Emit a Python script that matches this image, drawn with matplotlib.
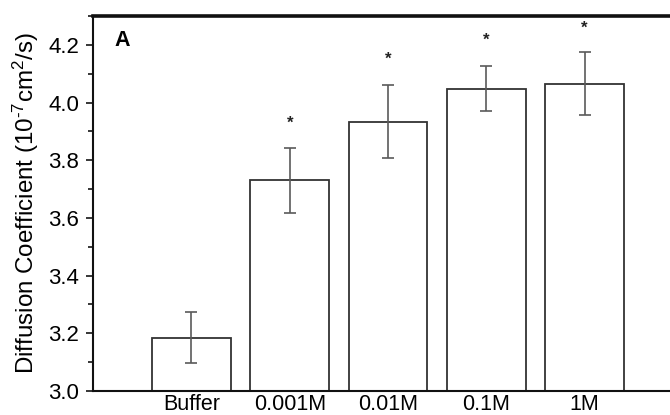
import matplotlib
matplotlib.use("Agg")
import matplotlib.pyplot as plt
from matplotlib.ticker import MultipleLocator

categories = ["Buffer", "0.001M", "0.01M", "0.1M", "1M"]
values = [3.185, 3.730, 3.934, 4.047, 4.066]
errors = [0.088, 0.112, 0.127, 0.078, 0.110]
star_levels = [None, 3.927, 4.150, 4.215, 4.257]

plt.rcParams['font.family'] = ['Liberation Sans', 'DejaVu Sans']
plt.rcParams['mathtext.fontset'] = 'custom'
plt.rcParams['mathtext.rm'] = 'Liberation Sans'
plt.rcParams['mathtext.it'] = 'Liberation Sans:italic'
plt.rcParams['mathtext.bf'] = 'Liberation Sans:bold'

fig = plt.figure(figsize=(6.7, 4.15), dpi=100)
ax = fig.add_axes([0.1388, 0.0578, 0.8612, 0.9036])

x = list(range(len(categories)))
ax.bar(x, [v - 3.0 for v in values], bottom=3.0, width=0.8,
       facecolor='white', edgecolor='#333333', linewidth=1.3, zorder=2)
ax.errorbar(x, values, yerr=errors, fmt='none', ecolor='#5a5a5a',
            elinewidth=1.2, capsize=4.5, capthick=1.2, zorder=3)
for xi, s in zip(x, star_levels):
    if s is not None:
        ax.text(xi, s, '*', ha='center', va='center', fontsize=12,
                fontweight='bold', color='#222222')

ax.set_xlim(-1.0025, 4.87)
ax.set_ylim(3.0, 4.30)
ax.set_xticks(x)
ax.set_xticklabels(categories, fontsize=15.5)
ax.tick_params(axis='x', length=0, pad=2)
ax.yaxis.set_minor_locator(MultipleLocator(0.1))
ax.set_yticks([3.0, 3.2, 3.4, 3.6, 3.8, 4.0, 4.2])
ax.set_yticklabels(["3.0", "3.2", "3.4", "3.6", "3.8", "4.0", "4.2"], fontsize=16)
ax.tick_params(axis='y', which='major', direction='out', length=5, width=1.1, pad=5)
ax.tick_params(axis='y', which='minor', direction='out', length=3.3, width=1.1)

ax.spines['right'].set_visible(False)
ax.spines['top'].set_linewidth(2.6)
ax.spines['top'].set_capstyle('projecting')
ax.spines['left'].set_linewidth(1.5)
ax.spines['bottom'].set_linewidth(1.5)
for sp in ax.spines.values():
    sp.set_color('#111111')

ax.set_ylabel("Diffusion Coefficient (10$^{\u2010 7}$cm$^{2}$/s)", fontsize=17.4, labelpad=5)
ax.text(0.038, 0.935, "A", transform=ax.transAxes, fontsize=15.5,
        fontweight='bold', ha='left', va='center')

fig.savefig("out.png", dpi=100)
